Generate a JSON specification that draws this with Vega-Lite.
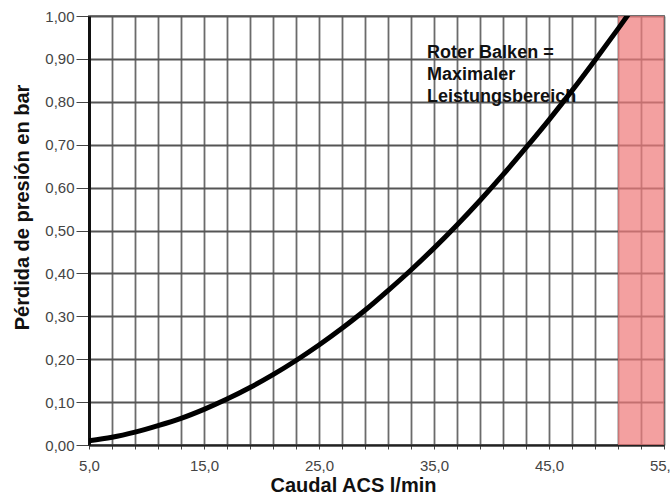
{
  "$schema": "https://vega.github.io/schema/vega-lite/v6.json",
  "width": 575,
  "height": 429,
  "autosize": "none",
  "padding": {"left": 89, "top": 16, "right": 6, "bottom": 50},
  "background": "white",
  "config": {
    "font": "Liberation Sans",
    "view": {"stroke": "#8a8a8a", "strokeWidth": 2}
  },
  "datasets": {
    "curve": [
      {"q": 5, "dp": 0.010},
      {"q": 7, "dp": 0.018},
      {"q": 9, "dp": 0.030},
      {"q": 11, "dp": 0.045},
      {"q": 13, "dp": 0.062},
      {"q": 15, "dp": 0.083},
      {"q": 17, "dp": 0.107},
      {"q": 19, "dp": 0.134},
      {"q": 21, "dp": 0.164},
      {"q": 23, "dp": 0.197},
      {"q": 25, "dp": 0.233},
      {"q": 27, "dp": 0.272},
      {"q": 29, "dp": 0.314},
      {"q": 31, "dp": 0.360},
      {"q": 33, "dp": 0.408},
      {"q": 35, "dp": 0.459},
      {"q": 37, "dp": 0.513},
      {"q": 39, "dp": 0.570},
      {"q": 41, "dp": 0.630},
      {"q": 43, "dp": 0.693},
      {"q": 45, "dp": 0.758},
      {"q": 47, "dp": 0.826},
      {"q": 49, "dp": 0.897},
      {"q": 51, "dp": 0.970},
      {"q": 53, "dp": 1.045}
    ],
    "band": [{"q0": 51, "q1": 55, "v0": 0, "v1": 1}],
    "note": [{"q": 34.4, "v": 0.934, "t": ["Roter Balken =", "Maximaler", "Leistungsbereich"]}]
  },
  "encoding": {
    "x": {
      "field": "q",
      "type": "quantitative",
      "scale": {"domain": [5, 55], "nice": false, "zero": false},
      "axis": {
        "values": [5, 7, 9, 11, 13, 15, 17, 19, 21, 23, 25, 27, 29, 31, 33, 35, 37, 39, 41, 43, 45, 47, 49, 51, 53, 55],
        "labelExpr": "(datum.value - 5) % 10 == 0 ? replace(format(datum.value, '.1f'), '.', ',') : ''",
        "labelOverlap": false,
        "labelFlush": false,
        "labelFontSize": 15,
        "labelColor": "#444444",
        "labelPadding": 9,
        "grid": true,
        "gridColor": "#6b6b6b",
        "gridWidth": 1.8,
        "domainColor": "#222222",
        "domainWidth": 2,
        "tickColor": "#444444",
        "tickSize": 4,
        "title": "Caudal ACS l/min",
        "titleFontSize": 20,
        "titleFontWeight": "bold",
        "titleColor": "#111111",
        "titleX": 264,
        "titleY": 40,
        "titleAlign": "center",
        "titleBaseline": "middle"
      }
    },
    "y": {
      "field": "dp",
      "type": "quantitative",
      "scale": {"domain": [0, 1], "nice": false},
      "axis": {
        "values": [0, 0.1, 0.2, 0.3, 0.4, 0.5, 0.6, 0.7, 0.8, 0.9, 1.0],
        "labelExpr": "replace(format(datum.value, '.2f'), '.', ',')",
        "labelFontSize": 15,
        "labelColor": "#444444",
        "labelPadding": 2,
        "grid": true,
        "gridColor": "#555555",
        "gridWidth": 2,
        "domainColor": "#111111",
        "domainWidth": 3,
        "tickColor": "#444444",
        "tickSize": 13,
        "title": "Pérdida de presión en bar",
        "titleFontSize": 20,
        "titleFontWeight": "bold",
        "titleColor": "#111111",
        "titleAngle": -90,
        "titleX": -67,
        "titleY": 191,
        "titleAlign": "center",
        "titleBaseline": "middle"
      }
    }
  },
  "layer": [
    {
      "data": {"name": "band"},
      "mark": {"type": "rect", "fill": "#ef7b7b", "opacity": 0.72},
      "encoding": {
        "x": {"field": "q0", "type": "quantitative"},
        "x2": {"field": "q1"},
        "y": {"field": "v0", "type": "quantitative"},
        "y2": {"field": "v1"}
      }
    },
    {
      "data": {"name": "note"},
      "mark": {"type": "text", "align": "left", "baseline": "top", "fontSize": 18, "fontWeight": "bold", "lineHeight": 22, "color": "#111111"},
      "encoding": {
        "x": {"field": "q", "type": "quantitative"},
        "y": {"field": "v", "type": "quantitative"},
        "text": {"field": "t"}
      }
    },
    {
      "data": {"name": "curve"},
      "mark": {"type": "line", "color": "#000000", "strokeWidth": 5, "interpolate": "monotone", "clip": true},
      "encoding": {
        "x": {"field": "q", "type": "quantitative"},
        "y": {"field": "dp", "type": "quantitative"}
      }
    }
  ]
}
